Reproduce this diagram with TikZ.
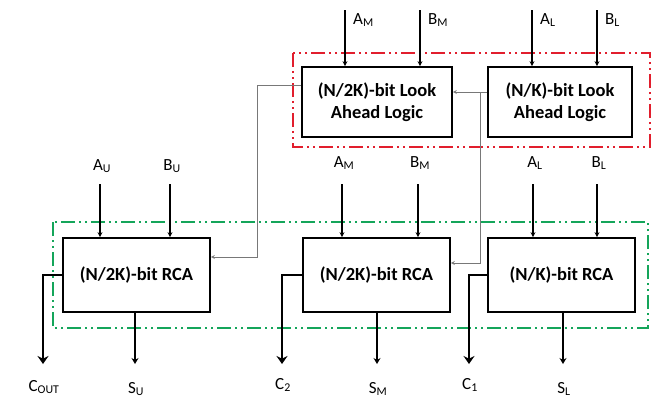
\documentclass[tikz,border=0pt]{standalone}
\usepackage{fontspec}
\setmainfont{Carlito}
\usetikzlibrary{arrows.meta}
\definecolor{redbox}{RGB}{225,30,45}
\definecolor{greenbox}{RGB}{20,165,90}
\definecolor{thinline}{RGB}{120,120,120}
\begin{document}
\begin{tikzpicture}[x=1pt,y=-1pt,
  blockbox/.style={draw, line width=1.7pt, inner sep=0pt, align=center,
    font=\fontsize{18.5}{22}\selectfont\bfseries},
  sig/.style={font=\fontsize{17}{19}\selectfont, inner sep=0pt},
  inarrow/.style={line width=1.6pt, -{Stealth[length=5pt,width=5pt]}},
  outarrowC/.style={line width=1.8pt, -{Stealth[length=8pt,width=11pt]}},
  outarrowS/.style={line width=1.6pt, -{Stealth[length=6pt,width=7pt]}},
  carry/.style={draw=thinline, line width=0.7pt, -{Stealth[length=4pt,width=4pt,open]}},
  dashdotdot/.style={line width=1.6pt, dash pattern=on 14pt off 4pt on 2pt off 4pt on 2pt off 4pt}
]
\useasboundingbox (0,0) rectangle (655,402);

% group boxes
\draw[dashdotdot, draw=redbox] (293,53) rectangle (650,147);
\draw[dashdotdot, draw=greenbox] (53,222) rectangle (648,328);

% look-ahead logic blocks
\node[blockbox, minimum width=150pt, minimum height=70pt] (lalM) at (377,102) {(N/2K)-bit Look\\Ahead Logic};
\node[blockbox, minimum width=144pt, minimum height=70pt] (lalL) at (560,102) {(N/K)-bit Look\\Ahead Logic};

% RCA blocks
\node[blockbox, minimum width=147pt, minimum height=74pt] (rcaU) at (136.5,275) {(N/2K)-bit RCA};
\node[blockbox, minimum width=147pt, minimum height=74pt] (rcaM) at (376.5,275) {(N/2K)-bit RCA};
\node[blockbox, minimum width=147pt, minimum height=74pt] (rcaL) at (561.5,275) {(N/K)-bit RCA};

% top inputs
\coordinate (tAM) at (345,10);
\coordinate (tBM) at (420,10);
\coordinate (tAL) at (532,10);
\coordinate (tBL) at (597,10);
\node[sig, anchor=west] (lAMt) at (353,20) {A\textsubscript{M}};
\node[sig, anchor=west] (lBMt) at (428,20) {B\textsubscript{M}};
\node[sig, anchor=west] (lALt) at (540,20) {A\textsubscript{L}};
\node[sig, anchor=west] (lBLt) at (605,20) {B\textsubscript{L}};
\draw[inarrow] (tAM) -- (tAM |- lalM.north);
\draw[inarrow] (tBM) -- (tBM |- lalM.north);
\draw[inarrow] (tAL) -- (tAL |- lalL.north);
\draw[inarrow] (tBL) -- (tBL |- lalL.north);

% RCA inputs
\node[sig] (lAU) at (102,166) {A\textsubscript{U}};
\node[sig] (lBU) at (172,166) {B\textsubscript{U}};
\node[sig] (lAM) at (344,163) {A\textsubscript{M}};
\node[sig] (lBM) at (420,163) {B\textsubscript{M}};
\node[sig] (lAL) at (535,163) {A\textsubscript{L}};
\node[sig] (lBL) at (599,163) {B\textsubscript{L}};
\coordinate (sAU) at (100,184);
\coordinate (sBU) at (170,184);
\coordinate (sAM) at (342,184);
\coordinate (sBM) at (418,184);
\coordinate (sAL) at (533,184);
\coordinate (sBL) at (597,184);
\draw[inarrow] (sAU) -- (sAU |- rcaU.north);
\draw[inarrow] (sBU) -- (sBU |- rcaU.north);
\draw[inarrow] (sAM) -- (sAM |- rcaM.north);
\draw[inarrow] (sBM) -- (sBM |- rcaM.north);
\draw[inarrow] (sAL) -- (sAL |- rcaL.north);
\draw[inarrow] (sBL) -- (sBL |- rcaL.north);

% outputs
\node[sig] (lCout) at (44,387) {C\textsubscript{OUT}};
\node[sig] (lSU) at (136,389) {S\textsubscript{U}};
\node[sig] (lC2) at (283,385) {C\textsubscript{2}};
\node[sig] (lSM) at (378,389) {S\textsubscript{M}};
\node[sig] (lC1) at (470,385) {C\textsubscript{1}};
\node[sig] (lSL) at (564,389) {S\textsubscript{L}};
\coordinate (eCout) at (43,364);
\coordinate (eSU) at (135,364);
\coordinate (eC2) at (282,364);
\coordinate (eSM) at (377,364);
\coordinate (eC1) at (469,364);
\coordinate (eSL) at (563,364);
\draw[outarrowC] (rcaU.west) -| (eCout);
\draw[outarrowC] (rcaM.west) -| (eC2);
\draw[outarrowC] (rcaL.west) -| (eC1);
\draw[outarrowS] (eSU |- rcaU.south) -- (eSU);
\draw[outarrowS] (eSM |- rcaM.south) -- (eSM);
\draw[outarrowS] (eSL |- rcaL.south) -- (eSL);

% carry connections
\coordinate (jL) at (480,92);
\coordinate (jU) at (257,85);
\draw[carry] (lalL.west |- jL) -- (lalM.east |- jL);
\draw[carry] (jL) -- (480,263) -- (rcaM.east |- 0,263);
\draw[carry] (lalM.west |- jU) -- (jU) -- (257,257) -- (rcaU.east |- 0,257);
\end{tikzpicture}
\end{document}
